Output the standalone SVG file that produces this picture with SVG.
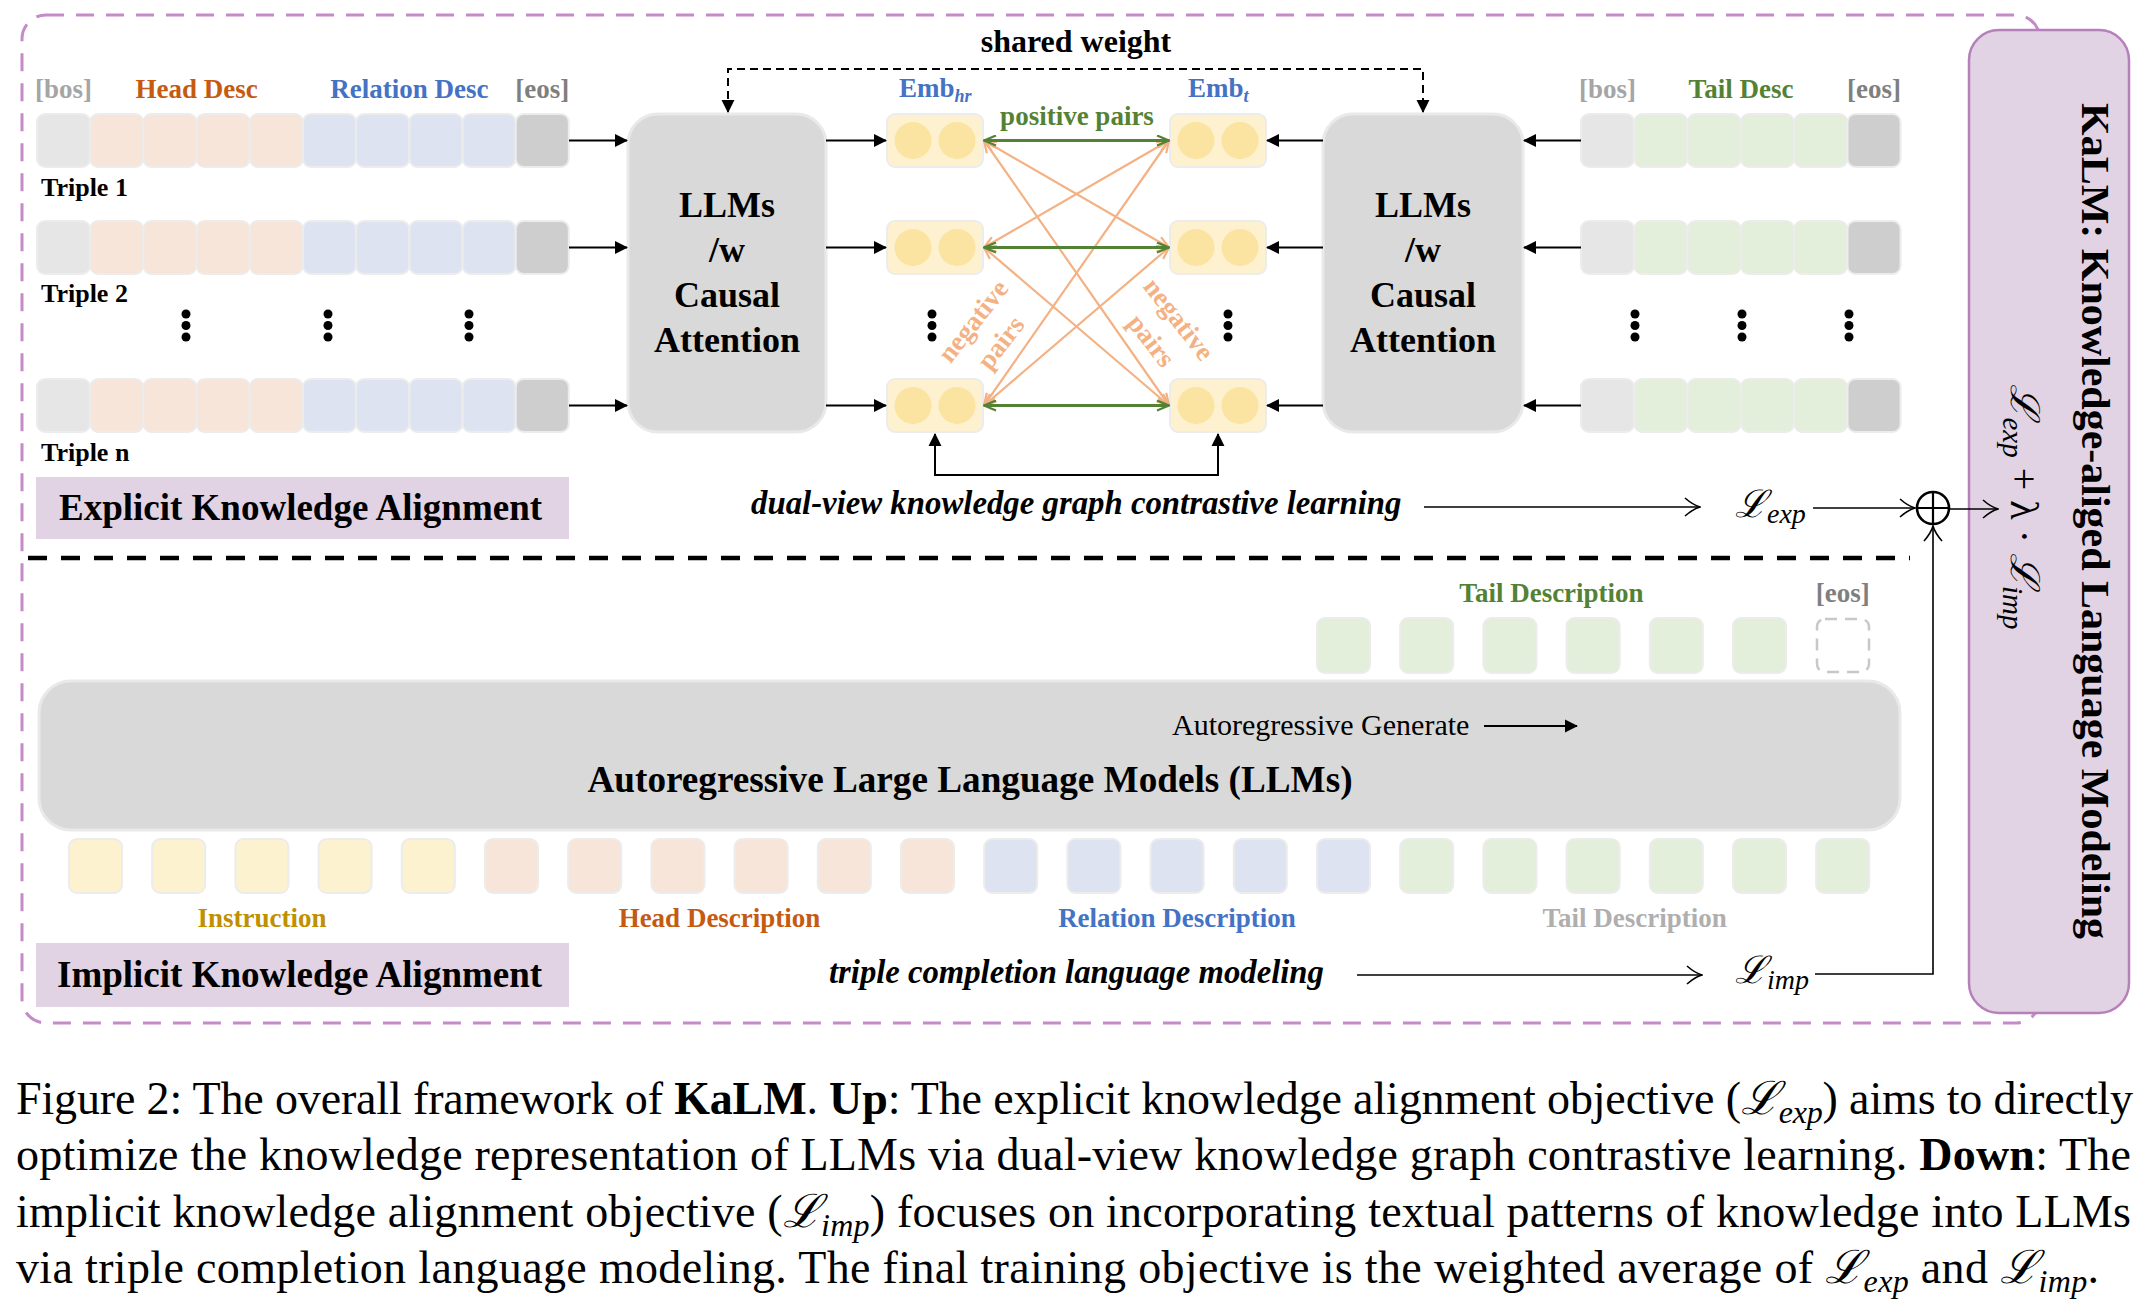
<svg xmlns="http://www.w3.org/2000/svg" xmlns:xlink="http://www.w3.org/1999/xlink" width="2144" height="1310" viewBox="0 0 2144 1310">
<style>
text { font-family: "Liberation Serif", "DejaVu Serif", serif; }
.b { font-weight: bold; }
.lbl { font-size: 27px; font-weight: bold; }
.tk { stroke: #ECECEC; stroke-width: 2; }
.c-bos { fill: #E6E6E6; }
.c-eos { fill: #CFCECE; }
.c-hd { fill: #F8E5D9; }
.c-rl { fill: #DDE3F1; }
.c-tl { fill: #E3EEDB; }
.c-in { fill: #FDF2D0; }
.llm { fill: #D9D9D9; stroke: #E9E9E9; stroke-width: 3; }
.ka { fill: #E1D3E3; }
.blk { stroke: #000; stroke-width: 2; fill: none; }
.thin { stroke: #000; stroke-width: 1.6; fill: none; }
.pos { stroke: #548235; stroke-width: 3; fill: none; }
.neg { stroke: #F4B183; stroke-width: 2.2; fill: none; }
.dot { fill: #000; }
.math { font-family: "Liberation Serif", "DejaVu Serif", serif; }
</style>
<defs>
<marker id="ah" viewBox="0 0 14 14" refX="13" refY="7" markerWidth="13" markerHeight="14" markerUnits="userSpaceOnUse" orient="auto-start-reverse">
<path d="M0,0 L14,7 L0,14 z" fill="#000"/>
</marker>
<marker id="oh" viewBox="0 0 17 20" refX="16" refY="10" markerWidth="17" markerHeight="20" markerUnits="userSpaceOnUse" orient="auto-start-reverse">
<path d="M1,1 Q9,8 16,10 Q9,12 1,19" fill="none" stroke="#000" stroke-width="1.6"/>
</marker>
<marker id="gh" viewBox="0 0 14 12" refX="13" refY="6" markerWidth="14" markerHeight="12" markerUnits="userSpaceOnUse" orient="auto-start-reverse">
<path d="M1,1 L13,6 L1,11" fill="none" stroke="#548235" stroke-width="2.2"/>
</marker>
<marker id="nh" viewBox="0 0 14 12" refX="13" refY="6" markerWidth="14" markerHeight="12" markerUnits="userSpaceOnUse" orient="auto-start-reverse">
<path d="M1,1 L13,6 L1,11" fill="none" stroke="#F4B183" stroke-width="2.2"/>
</marker>
<g id="seqL">
<rect class="tk c-bos" x="37" y="0" width="53" height="53" rx="8"/>
<rect class="tk c-hd" x="90.2" y="0" width="53" height="53" rx="8"/>
<rect class="tk c-hd" x="143.4" y="0" width="53" height="53" rx="8"/>
<rect class="tk c-hd" x="196.6" y="0" width="53" height="53" rx="8"/>
<rect class="tk c-hd" x="249.8" y="0" width="53" height="53" rx="8"/>
<rect class="tk c-rl" x="303" y="0" width="53" height="53" rx="8"/>
<rect class="tk c-rl" x="356.2" y="0" width="53" height="53" rx="8"/>
<rect class="tk c-rl" x="409.4" y="0" width="53" height="53" rx="8"/>
<rect class="tk c-rl" x="462.6" y="0" width="53" height="53" rx="8"/>
<rect class="tk c-eos" x="515.8" y="0" width="53" height="53" rx="8"/>
</g>
<g id="seqR">
<rect class="tk c-bos" x="1581" y="0" width="53" height="53" rx="8"/>
<rect class="tk c-tl" x="1634.3" y="0" width="53" height="53" rx="8"/>
<rect class="tk c-tl" x="1687.6" y="0" width="53" height="53" rx="8"/>
<rect class="tk c-tl" x="1740.9" y="0" width="53" height="53" rx="8"/>
<rect class="tk c-tl" x="1794.2" y="0" width="53" height="53" rx="8"/>
<rect class="tk c-eos" x="1847.5" y="0" width="53" height="53" rx="8"/>
</g>
<g id="emb">
<rect x="0" y="0" width="96" height="53" rx="8" fill="#FDF1CF" stroke="#ECECEC" stroke-width="2"/>
<circle cx="26" cy="26.5" r="18.5" fill="#FBE3A1"/>
<circle cx="70" cy="26.5" r="18.5" fill="#FBE3A1"/>
</g>
<g id="vdots">
<circle cx="0" cy="0" r="4.5"/>
<circle cx="0" cy="11.5" r="4.5"/>
<circle cx="0" cy="23" r="4.5"/>
</g>
</defs>

<rect width="2144" height="1310" fill="#fff"/>

<!-- outer frame -->
<rect id="frame" x="22" y="15" width="2018" height="1008" rx="24" fill="none" stroke="#C58BC8" stroke-width="3" stroke-dasharray="18 12"/>

<!-- KaLM box -->
<g id="kalm">
<rect x="1969" y="30" width="160" height="983" rx="30" fill="#E1D3E3" stroke="#B681BA" stroke-width="2.5"/>
<text class="b" font-size="40" text-anchor="middle" transform="translate(2082,521) rotate(90)" textLength="836" lengthAdjust="spacingAndGlyphs">KaLM: Knowledge-aliged Language Modeling</text>
<text class="math" font-size="40" text-anchor="middle" transform="translate(2011,507) rotate(90)"><tspan font-style="italic">ℒ</tspan><tspan font-size="29" font-style="italic" dy="8">exp</tspan><tspan dy="-8"> + λ · </tspan><tspan font-style="italic">ℒ</tspan><tspan font-size="29" font-style="italic" dy="8">imp</tspan></text>
</g>

<!-- top labels -->
<g id="labels-top" class="lbl" text-anchor="middle">
<text x="63.5" y="98" fill="#A5A5A5">[bos]</text>
<text x="196.6" y="98" fill="#C55A11">Head Desc</text>
<text x="409.4" y="98" fill="#4472C4">Relation Desc</text>
<text x="542.3" y="98" fill="#7F7F7F">[eos]</text>
<text x="1607.5" y="98" fill="#A5A5A5">[bos]</text>
<text x="1741" y="98" fill="#548235">Tail Desc</text>
<text x="1874" y="98" fill="#7F7F7F">[eos]</text>
</g>

<!-- left token sequences -->
<g id="triple1"><use href="#seqL" y="114"/><text class="b" x="41" y="196" font-size="26">Triple 1</text></g>
<g id="triple2"><use href="#seqL" y="221"/><text class="b" x="41" y="302" font-size="26">Triple 2</text></g>
<g id="triplen"><use href="#seqL" y="379"/><text class="b" x="41" y="461" font-size="26">Triple n</text></g>
<g id="dots-left" class="dot">
<use href="#vdots" x="186" y="314"/><use href="#vdots" x="328" y="314"/><use href="#vdots" x="469" y="314"/>
</g>

<!-- right token sequences -->
<g id="tail1"><use href="#seqR" y="114"/></g>
<g id="tail2"><use href="#seqR" y="221"/></g>
<g id="tailn"><use href="#seqR" y="379"/></g>
<g id="dots-right" class="dot">
<use href="#vdots" x="1635" y="314"/><use href="#vdots" x="1742" y="314"/><use href="#vdots" x="1849" y="314"/>
</g>

<!-- LLM boxes -->
<g id="llm-left">
<rect class="llm" x="628" y="114" width="198" height="318" rx="30"/>
<g class="b" font-size="36" text-anchor="middle">
<text x="727" y="217">LLMs</text><text x="727" y="262">/w</text><text x="727" y="307">Causal</text><text x="727" y="352">Attention</text>
</g>
</g>
<g id="llm-right">
<rect class="llm" x="1323" y="114" width="200" height="318" rx="30"/>
<g class="b" font-size="36" text-anchor="middle">
<text x="1423" y="217">LLMs</text><text x="1423" y="262">/w</text><text x="1423" y="307">Causal</text><text x="1423" y="352">Attention</text>
</g>
</g>

<!-- embeddings -->
<g id="emb-hr">
<text class="b" x="899" y="97" font-size="27" fill="#4472C4">Emb<tspan font-size="18" font-style="italic" dy="5">hr</tspan></text>
<use href="#emb" x="887" y="114"/><use href="#emb" x="887" y="221"/><use href="#emb" x="887" y="379"/>
<use href="#vdots" x="932" y="314" class="dot"/>
</g>
<g id="emb-t">
<text class="b" x="1188" y="97" font-size="27" fill="#4472C4">Emb<tspan font-size="18" font-style="italic" dy="5">t</tspan></text>
<use href="#emb" x="1170" y="114"/><use href="#emb" x="1170" y="221"/><use href="#emb" x="1170" y="379"/>
<use href="#vdots" x="1228" y="314" class="dot"/>
</g>

<!-- connectors -->
<g id="connectors">
<path class="blk" d="M569,140.5 H627" marker-end="url(#ah)"/>
<path class="blk" d="M569,247.5 H627" marker-end="url(#ah)"/>
<path class="blk" d="M569,405.5 H627" marker-end="url(#ah)"/>
<path class="blk" d="M826,140.5 H886" marker-end="url(#ah)"/>
<path class="blk" d="M826,247.5 H886" marker-end="url(#ah)"/>
<path class="blk" d="M826,405.5 H886" marker-end="url(#ah)"/>
<path class="blk" d="M1323,140.5 H1267" marker-end="url(#ah)"/>
<path class="blk" d="M1323,247.5 H1267" marker-end="url(#ah)"/>
<path class="blk" d="M1323,405.5 H1267" marker-end="url(#ah)"/>
<path class="blk" d="M1581,140.5 H1524" marker-end="url(#ah)"/>
<path class="blk" d="M1581,247.5 H1524" marker-end="url(#ah)"/>
<path class="blk" d="M1581,405.5 H1524" marker-end="url(#ah)"/>
<path class="blk" d="M728,112 V69 H1423 V112" stroke-dasharray="8 5" marker-start="url(#ah)" marker-end="url(#ah)"/>
<path class="blk" d="M935,434 V475 H1218 V434" stroke-width="2.5" marker-start="url(#ah)" marker-end="url(#ah)"/>
<path class="neg" d="M984,140.5 L1169,247.5" marker-start="url(#nh)" marker-end="url(#nh)"/>
<path class="neg" d="M984,140.5 L1169,405.5" marker-start="url(#nh)" marker-end="url(#nh)"/>
<path class="neg" d="M984,247.5 L1169,140.5" marker-start="url(#nh)" marker-end="url(#nh)"/>
<path class="neg" d="M984,247.5 L1169,405.5" marker-start="url(#nh)" marker-end="url(#nh)"/>
<path class="neg" d="M984,405.5 L1169,140.5" marker-start="url(#nh)" marker-end="url(#nh)"/>
<path class="neg" d="M984,405.5 L1169,247.5" marker-start="url(#nh)" marker-end="url(#nh)"/>
<path class="pos" d="M984,140.5 H1169" marker-start="url(#gh)" marker-end="url(#gh)"/>
<path class="pos" d="M984,247.5 H1169" marker-start="url(#gh)" marker-end="url(#gh)"/>
<path class="pos" d="M984,405.5 H1169" marker-start="url(#gh)" marker-end="url(#gh)"/>
<path class="thin" d="M1424,507 H1700" marker-end="url(#oh)"/>
<path class="thin" d="M1813,508 H1915" marker-end="url(#oh)"/>
<path class="thin" d="M1949,509 H1998" marker-end="url(#oh)"/>
<path class="thin" d="M1357,975 H1702" marker-end="url(#oh)"/>
<path class="thin" d="M1815,974 H1933 V526" stroke-width="2" marker-end="url(#oh)"/>
<path d="M28,558 H1910" stroke="#000" stroke-width="4.5" stroke-dasharray="19 14" fill="none"/>
</g>

<g id="oplus">
<circle cx="1933" cy="508" r="16" fill="#fff" stroke="#000" stroke-width="2.6"/>
<path d="M1917,508 H1949 M1933,492 V524" stroke="#000" stroke-width="2.2"/>
</g>

<g id="pair-labels" class="b" font-size="27">
<text x="1077" y="125" text-anchor="middle" fill="#548235">positive pairs</text>
<g transform="translate(973,321) rotate(-52)" fill="#F4B183" text-anchor="middle">
<text x="0" y="9">negative</text><text x="0" y="44">pairs</text>
</g>
<g transform="translate(1179,319) rotate(52)" fill="#F4B183" text-anchor="middle">
<text x="0" y="9">negative</text><text x="0" y="44">pairs</text>
</g>
</g>

<g id="shared-weight"><text class="b" x="1076" y="52" font-size="32" text-anchor="middle">shared weight</text></g>

<g id="explicit-label">
<rect class="ka" x="36" y="477" width="533" height="62"/>
<text class="b" x="59" y="520" font-size="37">Explicit Knowledge Alignment</text>
</g>
<g id="dual-view"><text class="b" x="751" y="514" font-size="32.8" font-style="italic">dual-view knowledge graph contrastive learning</text></g>
<g id="lexp"><text class="math" x="1735" y="517" font-size="38" font-style="italic">ℒ<tspan font-size="28" dy="6">exp</tspan></text></g>

<!-- implicit part -->
<g id="tail-desc-gen">
<text class="lbl" x="1551.5" y="602" text-anchor="middle" fill="#548235">Tail Description</text>
<text class="lbl" x="1842.7" y="602" text-anchor="middle" fill="#7F7F7F">[eos]</text>
<rect class="tk c-tl" x="1317" y="618" width="53" height="55" rx="8"/>
<rect class="tk c-tl" x="1400.2" y="618" width="53" height="55" rx="8"/>
<rect class="tk c-tl" x="1483.4" y="618" width="53" height="55" rx="8"/>
<rect class="tk c-tl" x="1566.6" y="618" width="53" height="55" rx="8"/>
<rect class="tk c-tl" x="1649.8" y="618" width="53" height="55" rx="8"/>
<rect class="tk c-tl" x="1733" y="618" width="53" height="55" rx="8"/>
<rect x="1817" y="619" width="52" height="53" rx="8" fill="#fff" stroke="#C8C8C8" stroke-width="2.5" stroke-dasharray="12 8"/>
</g>

<g id="ar-llm">
<rect class="llm" x="39" y="681" width="1861" height="149" rx="32"/>
<text x="1172" y="735" font-size="30">Autoregressive Generate</text>
<path class="blk" d="M1484,726 H1577" marker-end="url(#ah)"/>
<text class="b" x="970" y="792" font-size="37.2" text-anchor="middle">Autoregressive Large Language Models (LLMs)</text>
</g>

<g id="input-tokens">
<rect class="tk c-in" x="69" y="839" width="53" height="54" rx="8"/>
<rect class="tk c-in" x="152.2" y="839" width="53" height="54" rx="8"/>
<rect class="tk c-in" x="235.4" y="839" width="53" height="54" rx="8"/>
<rect class="tk c-in" x="318.6" y="839" width="53" height="54" rx="8"/>
<rect class="tk c-in" x="401.8" y="839" width="53" height="54" rx="8"/>
<rect class="tk c-hd" x="485" y="839" width="53" height="54" rx="8"/>
<rect class="tk c-hd" x="568.2" y="839" width="53" height="54" rx="8"/>
<rect class="tk c-hd" x="651.4" y="839" width="53" height="54" rx="8"/>
<rect class="tk c-hd" x="734.6" y="839" width="53" height="54" rx="8"/>
<rect class="tk c-hd" x="817.8" y="839" width="53" height="54" rx="8"/>
<rect class="tk c-hd" x="901" y="839" width="53" height="54" rx="8"/>
<rect class="tk c-rl" x="984.2" y="839" width="53" height="54" rx="8"/>
<rect class="tk c-rl" x="1067.4" y="839" width="53" height="54" rx="8"/>
<rect class="tk c-rl" x="1150.6" y="839" width="53" height="54" rx="8"/>
<rect class="tk c-rl" x="1233.8" y="839" width="53" height="54" rx="8"/>
<rect class="tk c-rl" x="1317" y="839" width="53" height="54" rx="8"/>
<rect class="tk c-tl" x="1400.2" y="839" width="53" height="54" rx="8"/>
<rect class="tk c-tl" x="1483.4" y="839" width="53" height="54" rx="8"/>
<rect class="tk c-tl" x="1566.6" y="839" width="53" height="54" rx="8"/>
<rect class="tk c-tl" x="1649.8" y="839" width="53" height="54" rx="8"/>
<rect class="tk c-tl" x="1733" y="839" width="53" height="54" rx="8"/>
<rect class="tk c-tl" x="1816.2" y="839" width="53" height="54" rx="8"/>
<g class="lbl" text-anchor="middle">
<text x="262" y="927" fill="#BF9000">Instruction</text>
<text x="719.5" y="927" fill="#C55A11">Head Description</text>
<text x="1177" y="927" fill="#4472C4">Relation Description</text>
<text x="1634.7" y="927" fill="#AFAFAF">Tail Description</text>
</g>
</g>

<g id="implicit-label">
<rect class="ka" x="36" y="943" width="533" height="64"/>
<text class="b" x="57" y="987" font-size="37">Implicit Knowledge Alignment</text>
</g>
<g id="triple-completion"><text class="b" x="829" y="983" font-size="32.7" font-style="italic">triple completion language modeling</text></g>
<g id="limp"><text class="math" x="1735" y="983" font-size="38" font-style="italic">ℒ<tspan font-size="28" dy="6">imp</tspan></text></g>

<!-- caption -->
<g id="caption" font-size="46">
<text x="16" y="1114" textLength="2117" lengthAdjust="spacing">Figure 2: The overall framework of <tspan class="b">KaLM</tspan>. <tspan class="b">Up</tspan>: The explicit knowledge alignment objective (<tspan font-style="italic">ℒ</tspan><tspan font-size="32" font-style="italic" dy="9">exp</tspan><tspan dy="-9">) aims to directly</tspan></text>
<text x="16" y="1170" textLength="2115" lengthAdjust="spacing">optimize the knowledge representation of LLMs via dual-view knowledge graph contrastive learning. <tspan class="b">Down</tspan>: The</text>
<text x="16" y="1227" textLength="2115" lengthAdjust="spacing">implicit knowledge alignment objective (<tspan font-style="italic">ℒ</tspan><tspan font-size="32" font-style="italic" dy="9">imp</tspan><tspan dy="-9">) focuses on incorporating textual patterns of knowledge into LLMs</tspan></text>
<text x="16" y="1283" textLength="2083" lengthAdjust="spacing">via triple completion language modeling. The final training objective is the weighted average of <tspan font-style="italic">ℒ</tspan><tspan font-size="32" font-style="italic" dy="9">exp</tspan><tspan dy="-9"> and </tspan><tspan font-style="italic">ℒ</tspan><tspan font-size="32" font-style="italic" dy="9">imp</tspan><tspan dy="-9">.</tspan></text>
</g>
</svg>
